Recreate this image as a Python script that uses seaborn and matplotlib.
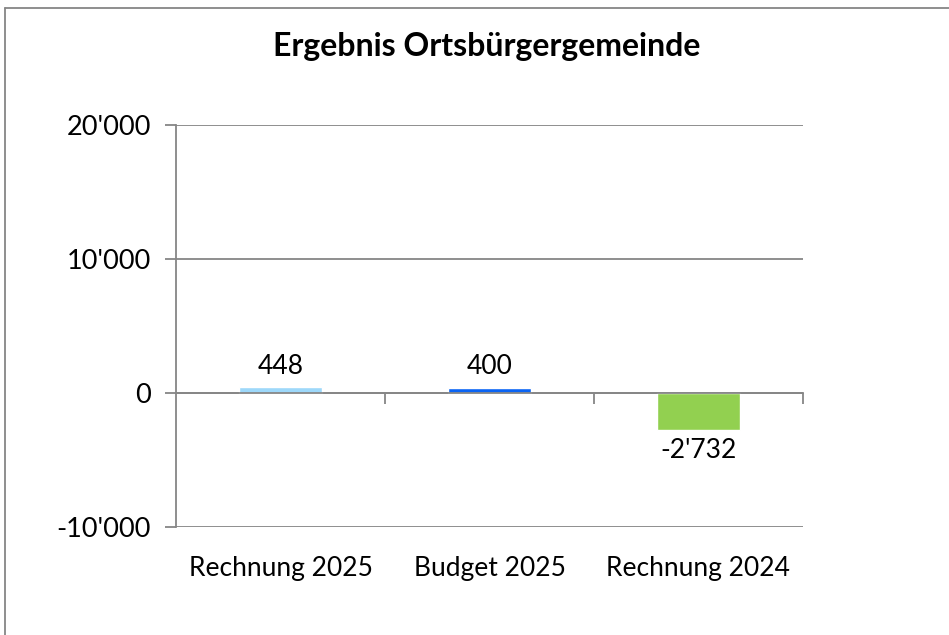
import matplotlib
matplotlib.use("Agg")
import matplotlib.pyplot as plt
import matplotlib.ticker as mticker
from matplotlib.lines import Line2D
import seaborn as sns
import pandas as pd

categories = ["Rechnung 2025", "Budget 2025", "Rechnung 2024"]
values = [448, 400, -2732]
colors = ["#9dd8fa", "#0a64f4", "#92d050"]
yticks = [-10000, 0, 10000, 20000]
title = "Ergebnis Ortsbürgergemeinde"

def swiss(v):
    s = f"{abs(int(round(v))):,}".replace(",", "'")
    return ("-" if v < 0 else "") + s

sns.set_theme(style="white")
plt.rcParams["font.family"] = ["Lato", "DejaVu Sans"]
plt.rcParams["text.color"] = "black"
plt.rcParams["xtick.labelcolor"] = "black"
plt.rcParams["ytick.labelcolor"] = "black"

df = pd.DataFrame({"cat": categories, "val": values})
fig = plt.figure(figsize=(9.49, 6.35), dpi=100)
ax = fig.add_axes([0.1855, 0.170, 0.6605, 0.633])

sns.barplot(data=df, x="cat", y="val", hue="cat", palette=colors,
            width=0.4, legend=False, ax=ax, saturation=1)

gray = "#868686"
ax.set_ylim(-10000, 20000)
ax.set_xlim(-0.5, 2.5)
ax.set_yticks(yticks)
ax.yaxis.set_major_formatter(mticker.FuncFormatter(lambda v, p: swiss(v)))
ax.yaxis.grid(True, color=gray, linewidth=1.3)
ax.set_axisbelow(True)
for s in ["top", "right"]:
    ax.spines[s].set_visible(False)
ax.spines["left"].set_color(gray)
ax.spines["left"].set_linewidth(1.3)
ax.spines["bottom"].set_position(("data", 0))
ax.spines["bottom"].set_color(gray)
ax.spines["bottom"].set_linewidth(1.3)
ax.tick_params(axis="y", which="major", direction="out", length=8, width=1.3,
               color=gray, labelsize=19.5, pad=10, left=True, labelcolor="black")
ax.set_xticks([0.5, 1.5, 2.5], minor=True)
ax.tick_params(axis="x", which="minor", direction="out", length=8, width=1.3,
               color=gray, bottom=True)
ax.tick_params(axis="x", which="major", length=0, labelsize=19, pad=117,
               labelcolor="black")
ax.set_xlabel("")
ax.set_ylabel("")

for c in ax.containers:
    ax.bar_label(c, labels=[swiss(v) for v in c.datavalues], fontsize=19,
                 padding=6, color="black")

fig.suptitle(title, x=0.513, y=0.95, fontsize=23, fontweight="bold",
             color="black")

fig.add_artist(Line2D([0.005, 1.0], [1 - 8/635, 1 - 8/635],
                      transform=fig.transFigure, color=gray, linewidth=1.3))
fig.add_artist(Line2D([5/949, 5/949], [0, 1 - 8/635],
                      transform=fig.transFigure, color=gray, linewidth=1.3))

fig.savefig("out.png", dpi=100)
